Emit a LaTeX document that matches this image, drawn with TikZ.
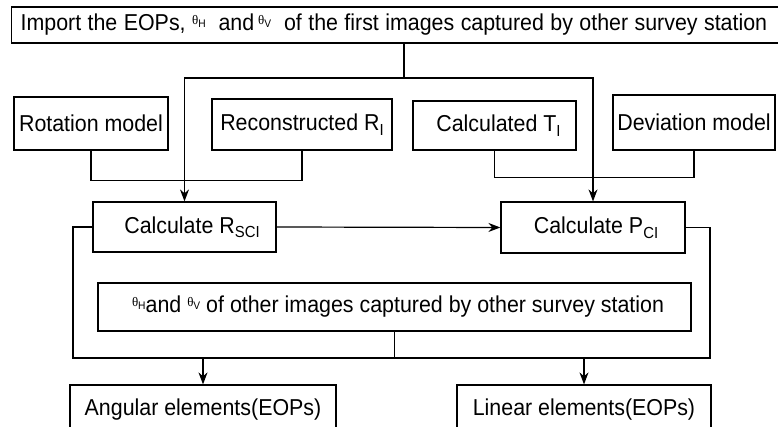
\documentclass[tikz,border=0pt]{standalone}
\usepackage{fontspec}
\setmainfont{Liberation Sans}[FakeStretch=0.93]
\newfontfamily\thfont{Liberation Serif}
\usetikzlibrary{arrows.meta}
\newcommand{\thsub}[1]{\raisebox{6pt}{\thfont\fontsize{13}{13}\selectfont θ}\raisebox{3.5pt}{\fontsize{11}{11}\selectfont #1}}
\newcommand{\lsub}[1]{\raisebox{-4.5pt}{\fontsize{16}{16}\selectfont #1}}
\begin{document}
\begin{tikzpicture}[x=1pt,y=-1pt,
  box/.style={draw, line width=1.2pt, inner sep=0pt, font=\fontsize{23}{27}\selectfont},
  ln/.style={line width=1.2pt},
  arr/.style={ln, -{Stealth[length=12pt,width=9pt]}}]
\useasboundingbox (0,0) rectangle (778,427);
\node[box, anchor=west, minimum height=36pt, inner xsep=9pt, text width=790pt, align=left] (top) at (11,25)
  {\spaceskip=0.28em plus 0.05em\relax Import the EOPs, \thsub{H}\ \ and\,\thsub{V}\ \ of the first images captured by other survey station};
\node[box, minimum width=154pt, minimum height=53pt] (rot) at (91,123.5) {Rotation model};
\node[box, minimum width=180pt, minimum height=51pt] (rec) at (302,124.5) {Reconstructed R\lsub{I}};
\node[box, minimum width=163pt, minimum height=49pt] (calt) at (494.5,125.5) {\hspace*{8pt}Calculated T\lsub{I}};
\node[box, minimum width=162pt, minimum height=55pt] (dev) at (694,122.5) {Deviation model};
\node[box, minimum width=183pt, minimum height=50pt] (rsci) at (184.5,227) {\hspace*{15pt}Calculate R\lsub{SCI}};
\node[box, minimum width=184pt, minimum height=51pt] (pci) at (593,227.5) {\hspace*{6pt}Calculate P\lsub{CI}};
\node[box, minimum width=593pt, minimum height=48pt] (theta) at (394.5,307) {\hspace*{7pt}\thsub{H}and \thsub{V} of other images captured by other survey station};
\node[box, minimum width=266pt, minimum height=50pt] (ang) at (203,410) {Angular elements(EOPs)};
\node[box, minimum width=254pt, minimum height=50pt] (lin) at (584,410) {Linear elements(EOPs)};
\coordinate (j1) at (404,78);
\coordinate (bl) at (73,358);
\coordinate (br) at (710,358);
\draw[ln] (j1 |- top.south) -- (j1);
\draw[arr] (j1) -| (rsci.north);
\draw[arr] (j1) -| (pci.north);
\draw[ln] (rot.south) -- ++(0,30) -| (rec.south);
\draw[ln] (calt.south) -- ++(0,27) -| (dev.south);
\draw[arr] (rsci.east) -- (pci.west);
\draw[ln] (rsci.west) -| (bl) -- (br) |- (pci.east);
\draw[ln] (theta.south) -- (theta.south |- bl);
\draw[arr] (ang.north |- bl) -- (ang.north);
\draw[arr] (lin.north |- bl) -- (lin.north);
\end{tikzpicture}
\end{document}
